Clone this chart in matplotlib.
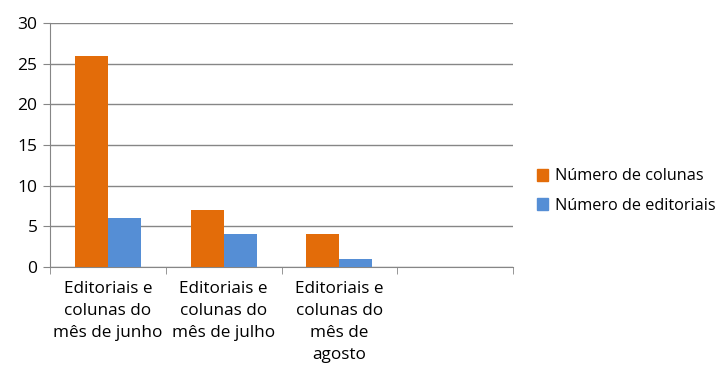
import numpy as np
import matplotlib.pyplot as plt
from matplotlib.patches import Patch

# Dados
categorias = ['Editoriais e\ncolunas do\nmês de junho',
              'Editoriais e\ncolunas do\nmês de julho',
              'Editoriais e\ncolunas do\nmês de\nagosto',
              '']
colunas = [26, 7, 4, 0]
editoriais = [6, 4, 1, 0]
series = ['Número de colunas', 'Número de editoriais']
cores = ['#E36C09', '#558ED5']

plt.rcParams['font.family'] = ['Open Sans', 'DejaVu Sans']

fig = plt.figure(figsize=(7.26, 3.67), dpi=100)
ax = fig.add_axes([50/726, 1 - 267/367, 463/726, 244/367])

x = np.arange(len(categorias))
w = 0.285
ax.bar(x - w/2, colunas, w, color=cores[0], zorder=3)
ax.bar(x + w/2, editoriais, w, color=cores[1], zorder=3)

ax.set_xlim(-0.5, len(categorias) - 0.5)
ax.set_ylim(0, 30)
ax.set_yticks(range(0, 31, 5))
ax.yaxis.grid(True, color='#868686', linewidth=1, zorder=0)
ax.tick_params(axis='y', length=5, color='#868686', labelsize=12.5, pad=4)

ax.set_xticks(x)
ax.set_xticklabels(categorias, fontsize=12.3, linespacing=1.5, va='top')
ax.tick_params(axis='x', which='major', length=0, pad=10)
ax.set_xticks(np.arange(-0.5, len(categorias)), minor=True)
ax.tick_params(axis='x', which='minor', length=5, color='#868686')

for s in ['top', 'right']:
    ax.spines[s].set_visible(False)
for s in ['left', 'bottom']:
    ax.spines[s].set_color('#868686')

handles = [Patch(color=c, label=l) for c, l in zip(cores, series)]
fig.legend(handles=handles, loc='center left', bbox_to_anchor=(522/726, 1 - 191/367),
           frameon=False, fontsize=11.7, handlelength=0.7, handleheight=0.7,
           handletextpad=0.45, labelspacing=0.8)

fig.savefig('out.png', dpi=100)
